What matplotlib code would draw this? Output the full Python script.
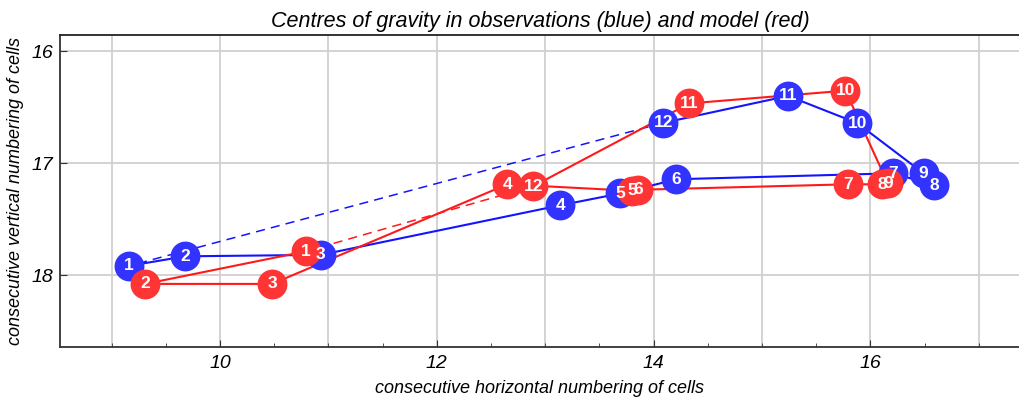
import matplotlib
matplotlib.use("Agg")
import matplotlib.pyplot as plt
from matplotlib.ticker import MultipleLocator

plt.rcParams['font.family'] = ['Liberation Sans', 'DejaVu Sans']
plt.rcParams['font.style'] = 'italic'

# time step labels 1..12
steps = list(range(1, 13))

# centres of gravity, observations (blue)
obs_x = [9.16, 9.68, 10.93, 13.14, 13.69, 14.21, 16.21, 16.59, 16.49, 15.88, 15.24, 14.09]
obs_y = [17.915, 17.83, 17.817, 17.375, 17.27, 17.143, 17.09, 17.196, 17.09, 16.643, 16.40, 16.64]

# centres of gravity, model (red)
mod_x = [10.79, 9.31, 10.48, 12.65, 13.80, 13.86, 15.79, 16.11, 16.16, 15.77, 14.33, 12.89]
mod_y = [17.786, 18.076, 18.076, 17.188, 17.246, 17.237, 17.188, 17.188, 17.179, 16.353, 16.467, 17.205]

line_blue = '#1414ff'
line_red = '#ff1a1a'
dot_blue = '#3333ff'
dot_red = '#ff3535'

fig = plt.figure(figsize=(10.2, 3.98), dpi=100)
ax = fig.add_axes([60 / 1020, 1 - 346.5 / 398, 960 / 1020, (346.5 - 35) / 398])

# tracks: solid through the sequence, dashed back from last to first
ax.plot(obs_x, obs_y, '-', color=line_blue, lw=1.5, zorder=2)
ax.plot([obs_x[-1], obs_x[0]], [obs_y[-1], obs_y[0]], '--', color=line_blue,
        lw=1.1, dashes=(6, 4), zorder=2)
ax.plot(mod_x, mod_y, '-', color=line_red, lw=1.5, zorder=2)
ax.plot([mod_x[-1], mod_x[0]], [mod_y[-1], mod_y[0]], '--', color=line_red,
        lw=1.1, dashes=(6, 4), zorder=2)

# dots
ax.plot(obs_x, obs_y, 'o', ms=21.5, color=dot_blue, mec='none', zorder=3)
ax.plot(mod_x, mod_y, 'o', ms=21.5, color=dot_red, mec='none', zorder=4)

# step numbers on the dots
for xs, ys in [(obs_x, obs_y), (mod_x, mod_y)]:
    for n, x, y in zip(steps, xs, ys):
        ax.text(x, y, str(n), color='white', fontsize=12.5, fontweight='bold',
                fontstyle='normal', ha='center', va='center', zorder=5)

ax.set_xlim(8.524, 17.38)
ax.set_ylim(18.634, 15.857)

ax.xaxis.set_major_locator(MultipleLocator(2))
ax.xaxis.set_minor_locator(MultipleLocator(0.5))
ax.yaxis.set_major_locator(MultipleLocator(1))
ax.grid(False)
for gx in range(9, 18):
    ax.axvline(gx, color='#d0d0d0', lw=1.3, zorder=1)
for gy in [16, 17, 18]:
    ax.axhline(gy, color='#d0d0d0', lw=1.3, zorder=1)

ax.tick_params(axis='both', which='both', direction='in', labelsize=14,
               color='#333333', top=False, right=False)
ax.tick_params(axis='x', which='major', length=5, pad=6)
ax.tick_params(axis='x', which='minor', length=3)
ax.tick_params(axis='y', which='major', length=5, pad=5)

for side in ['left', 'bottom']:
    ax.spines[side].set_color('#333333')
    ax.spines[side].set_linewidth(1.3)
ax.spines['top'].set_color('#222222')
ax.spines['top'].set_linewidth(1.3)
ax.spines['right'].set_visible(False)

ax.set_title('Centres of gravity in observations (blue) and model (red)',
             fontsize=15.5, pad=6)
ax.set_xlabel('consecutive horizontal numbering of cells', fontsize=13, labelpad=6)
ax.set_ylabel('consecutive vertical numbering of cells', fontsize=13, labelpad=5)

fig.savefig('out.png', dpi=100)
